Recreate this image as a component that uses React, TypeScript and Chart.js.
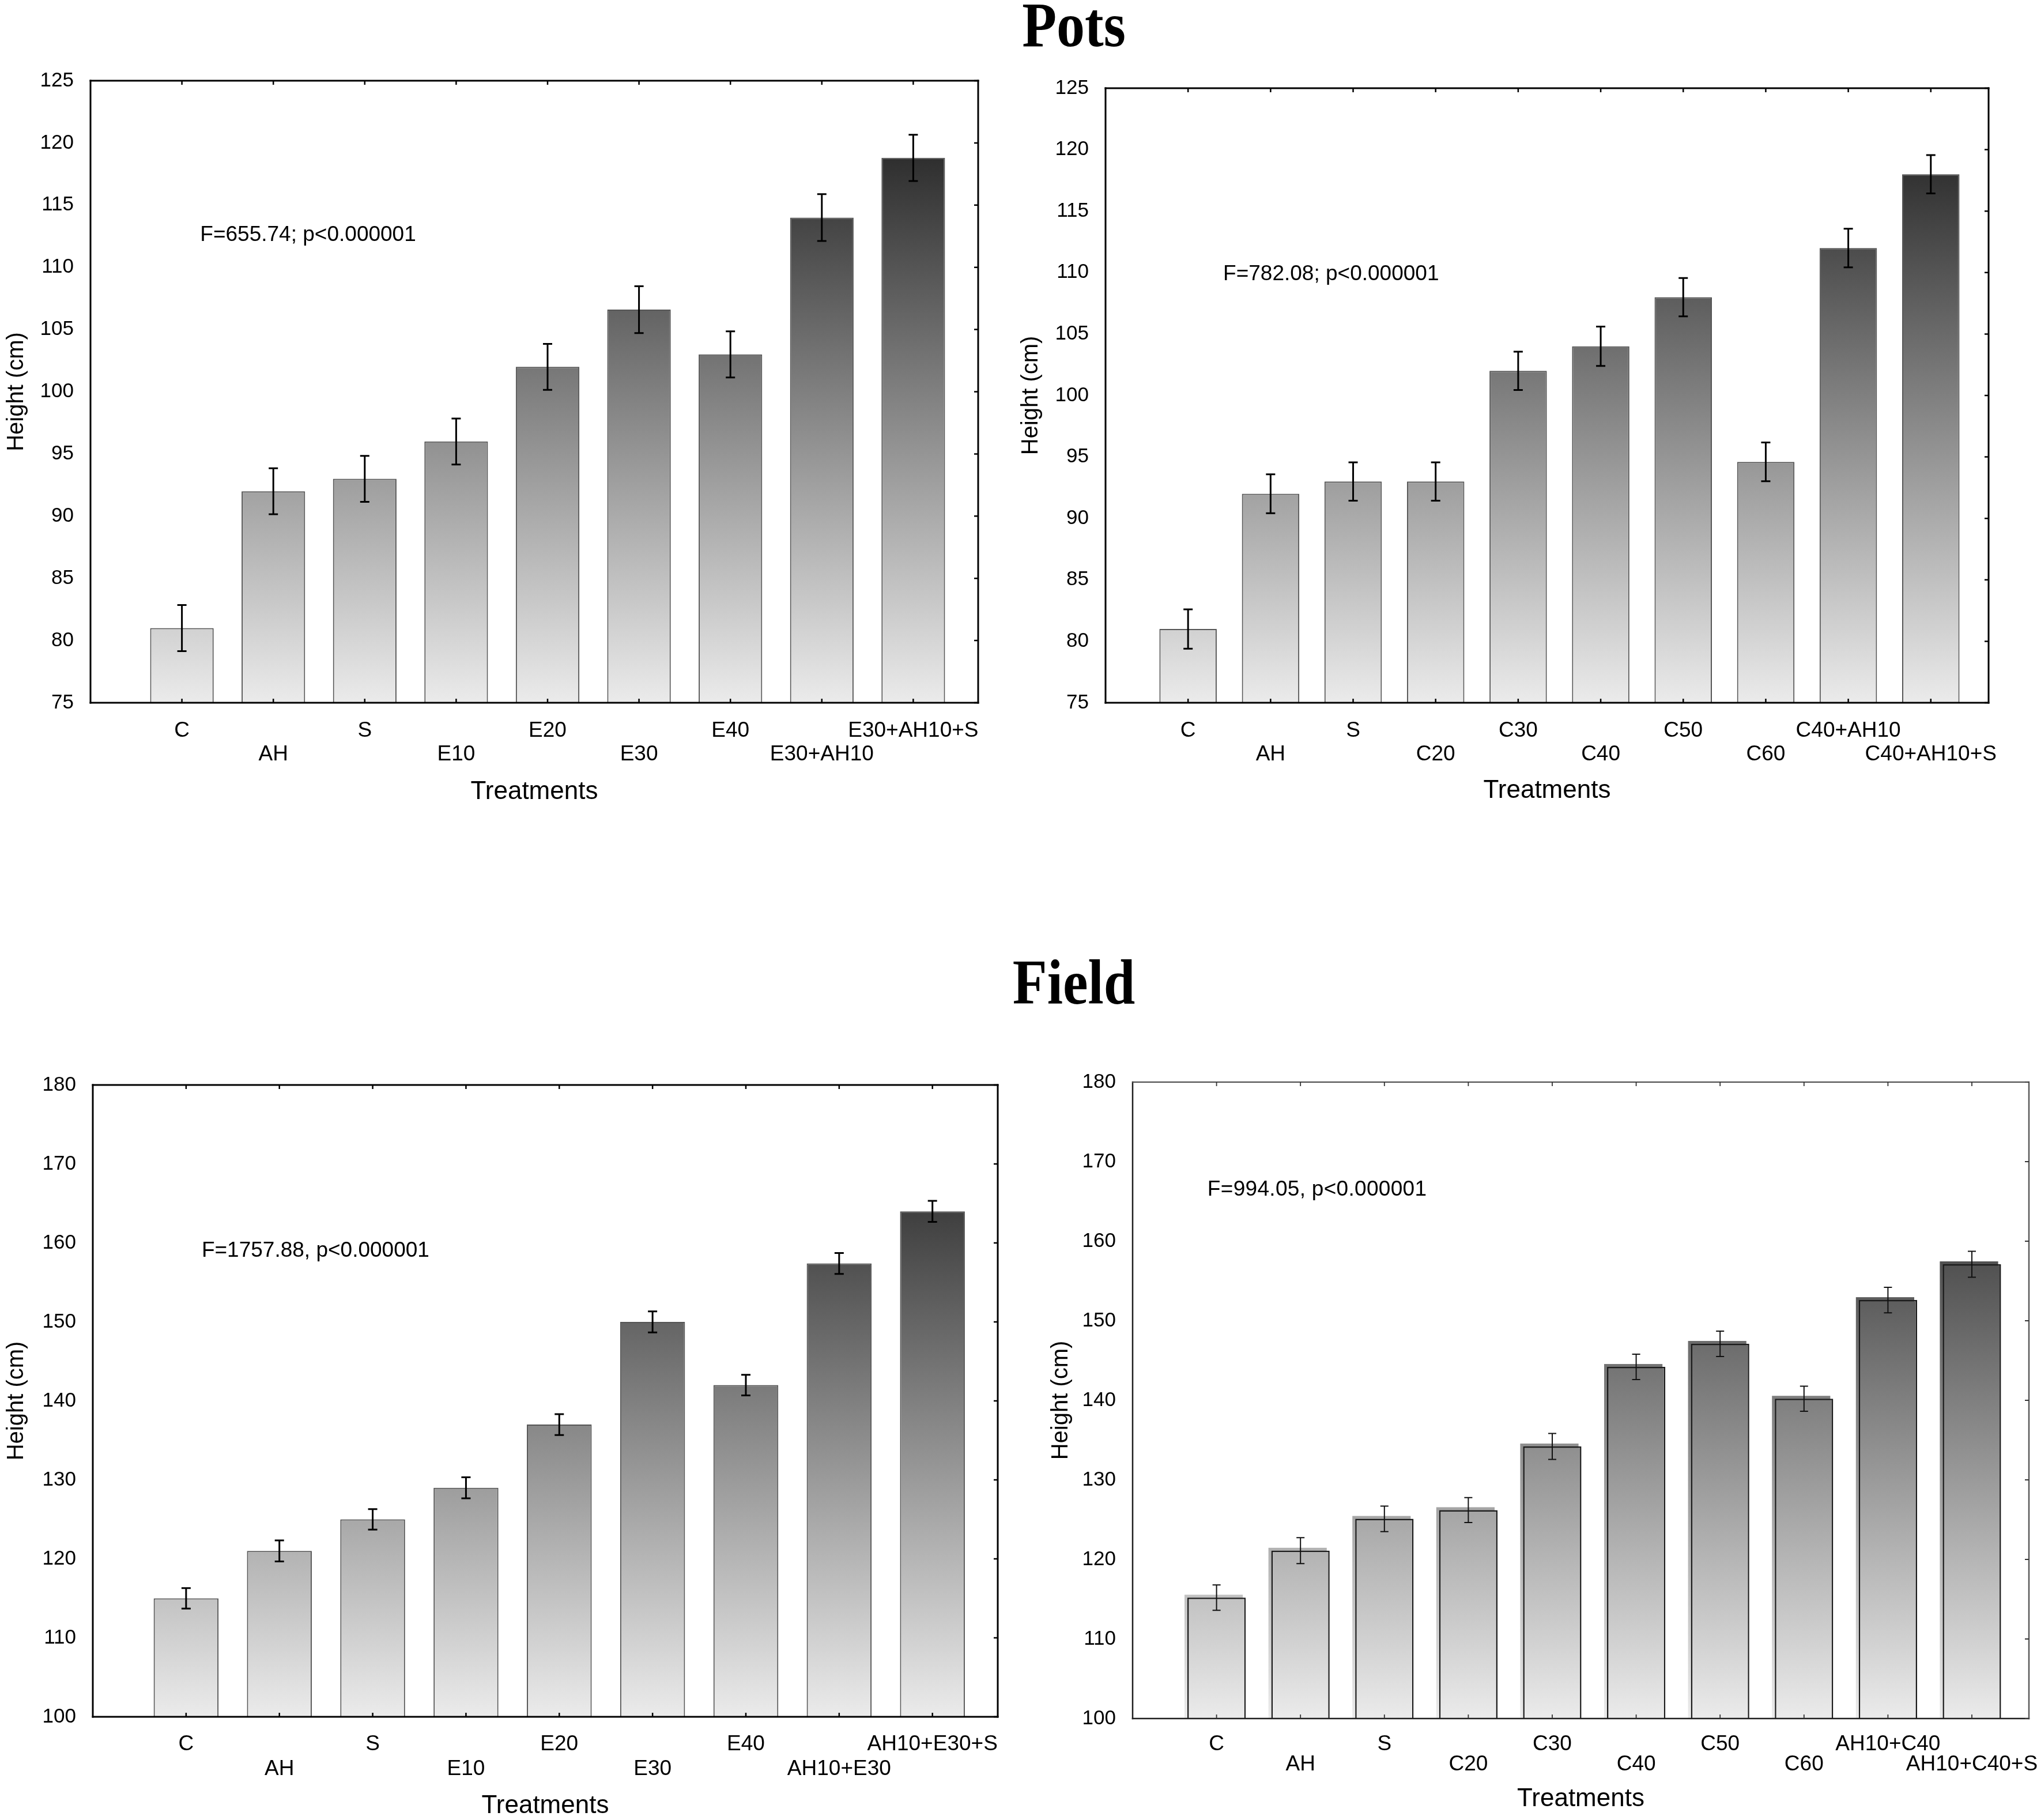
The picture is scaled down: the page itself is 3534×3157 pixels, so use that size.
import React, { useEffect, useRef } from 'react';
import { Chart, registerables } from 'chart.js';

Chart.register(...registerables);

// ---------- data ----------
const potsETreatments = ['C', 'AH', 'S', 'E10', 'E20', 'E30', 'E40', 'E30+AH10', 'E30+AH10+S'];
const potsEHeights = [81, 92, 93, 96, 102, 106.6, 103, 114, 118.8];
const potsEErrors = [1.85, 1.85, 1.85, 1.85, 1.85, 1.88, 1.85, 1.88, 1.86];

const potsCTreatments = ['C', 'AH', 'S', 'C20', 'C30', 'C40', 'C50', 'C60', 'C40+AH10', 'C40+AH10+S'];
const potsCHeights = [81, 92, 93, 93, 102, 104, 108, 94.6, 112, 118];
const potsCErrors = [1.6, 1.58, 1.56, 1.56, 1.56, 1.6, 1.56, 1.58, 1.57, 1.56];

const fieldETreatments = ['C', 'AH', 'S', 'E10', 'E20', 'E30', 'E40', 'AH10+E30', 'AH10+E30+S'];
const fieldEHeights = [115, 121, 125, 129, 137, 150, 142, 157.4, 164];
const fieldEErrors = [1.3, 1.33, 1.3, 1.33, 1.33, 1.33, 1.3, 1.33, 1.33];

const fieldCTreatments = ['C', 'AH', 'S', 'C20', 'C30', 'C40', 'C50', 'C60', 'AH10+C40', 'AH10+C40+S'];
const fieldCHeights = [115.2, 121.1, 125.1, 126.2, 134.2, 144.2, 147.1, 140.2, 152.6, 157.1];
const fieldCErrors = [1.6, 1.63, 1.6, 1.57, 1.63, 1.6, 1.6, 1.57, 1.6, 1.63];

const potsTicks = [75, 80, 85, 90, 95, 100, 105, 110, 115, 120, 125];
const fieldTicks = [100, 110, 120, 130, 140, 150, 160, 170, 180];

const potsENote = 'F=655.74; p<0.000001';
const potsCNote = 'F=782.08; p<0.000001';
const fieldENote = 'F=1757.88, p<0.000001';
const fieldCNote = 'F=994.05, p<0.000001';

const yTitle = 'Height (cm)';
const xTitle = 'Treatments';
const sectionTitles = ['Pots', 'Field'];

// ---------- styling ----------
const SANS = "'Liberation Sans', Arial, Helvetica, sans-serif";

type Spec = {
  canvas: { x: number; y: number; w: number; h: number };
  area: { L: number; T: number; R: number; B: number };
  cats: string[];
  values: number[];
  errors: number[];
  yMin: number;
  yMax: number;
  yTicks: number[];
  xMax: number;
  yTitleX: number;
  xRow1: number;
  xRowGap: number;
  xTitleY: number;
  note: string;
  noteAt: [number, number];
  noteSpacing: string;
  light: boolean;
};

const specs: Spec[] = [
  {
    canvas: { x: 0, y: 100, w: 1767, h: 1330 },
    area: { L: 157, T: 140, R: 1697, B: 1219 },
    cats: potsETreatments, values: potsEHeights, errors: potsEErrors,
    yMin: 75, yMax: 125, yTicks: potsTicks, xMax: 8.71,
    yTitleX: 29, xRow1: 1260, xRowGap: 41, xTitleY: 1374,
    note: potsENote, noteAt: [0.2, 112.6], noteSpacing: '0px', light: false,
  },
  {
    canvas: { x: 1760, y: 100, w: 1774, h: 1330 },
    area: { L: 1918, T: 153, R: 3450, B: 1219 },
    cats: potsCTreatments, values: potsCHeights, errors: potsCErrors,
    yMin: 75, yMax: 125, yTicks: potsTicks, xMax: 9.7,
    yTitleX: 1789, xRow1: 1260, xRowGap: 41, xTitleY: 1372,
    note: potsCNote, noteAt: [0.425, 109.85], noteSpacing: '0px', light: false,
  },
  {
    canvas: { x: 0, y: 1800, w: 1767, h: 1357 },
    area: { L: 161, T: 1882, R: 1731, B: 2978 },
    cats: fieldETreatments, values: fieldEHeights, errors: fieldEErrors,
    yMin: 100, yMax: 180, yTicks: fieldTicks, xMax: 8.7,
    yTitleX: 29, xRow1: 3018, xRowGap: 43, xTitleY: 3133,
    note: fieldENote, noteAt: [0.167, 158.96], noteSpacing: '0px', light: false,
  },
  {
    canvas: { x: 1760, y: 1800, w: 1774, h: 1357 },
    area: { L: 1965, T: 1877, R: 3520, B: 2981 },
    cats: fieldCTreatments, values: fieldCHeights, errors: fieldCErrors,
    yMin: 100, yMax: 180, yTicks: fieldTicks, xMax: 9.68,
    yTitleX: 1841, xRow1: 3018, xRowGap: 35, xTitleY: 3121,
    note: fieldCNote, noteAt: [-0.108, 166.46], noteSpacing: '0.3px', light: true,
  },
];

function barGradient(ctx: CanvasRenderingContext2D, area: any) {
  const g = ctx.createLinearGradient(0, area.bottom, 0, area.top);
  g.addColorStop(0, '#ebebeb');
  g.addColorStop(1, '#141414');
  return g;
}

function buildChart(canvas: HTMLCanvasElement, s: Spec) {
  const yTickSize = 35;
  const xTickSize = 37;
  const xTitleSize = 44;
  const xTitleLH = 1;
  const yTitleSize = 40;
  const yWidth = s.area.L - s.canvas.x;
  const boxBottom = Math.min(s.xTitleY + (xTitleSize * xTitleLH) / 2, s.canvas.y + s.canvas.h);
  const xHeight = boxBottom - s.area.B;
  const padTop = s.area.T - s.canvas.y;
  const padRight = s.canvas.x + s.canvas.w - s.area.R;
  const padBottom = s.canvas.y + s.canvas.h - boxBottom;
  const xTitlePadBottom = boxBottom - (xTitleSize * xTitleLH) / 2 - s.xTitleY;
  const xTickPad = s.xRow1 - s.area.B - s.xRowGap / 2;
  const yTitlePad = s.yTitleX - s.canvas.x - yTitleSize / 2;

  const shadowPlugin = {
    id: 'barShadow',
    beforeDatasetsDraw(chart: any) {
      if (!s.light) return;
      const ctx = chart.ctx as CanvasRenderingContext2D;
      const area = chart.chartArea;
      const meta = chart.getDatasetMeta(0);
      ctx.save();
      ctx.beginPath();
      ctx.rect(area.left, area.top, area.right - area.left, area.bottom - area.top);
      ctx.clip();
      ctx.fillStyle = barGradient(ctx, area);
      meta.data.forEach((el: any) => {
        const { x, y, width } = el.getProps(['x', 'y', 'width'], true);
        ctx.fillRect(x - width / 2 - 5, y - 5, width, area.bottom - y + 5);
      });
      ctx.restore();
    },
  };

  const framePlugin = {
    id: 'frame',
    afterDatasetsDraw(chart: any) {
      const ctx = chart.ctx as CanvasRenderingContext2D;
      const { left, right, top, bottom } = chart.chartArea;
      const xs = chart.scales.x;
      const ys = chart.scales.y;
      const tl = 7;
      ctx.save();
      ctx.lineCap = 'square';
      const side = (color: string, w: number, x1: number, y1: number, x2: number, y2: number) => {
        ctx.strokeStyle = color;
        ctx.lineWidth = w;
        ctx.beginPath();
        ctx.moveTo(x1, y1);
        ctx.lineTo(x2, y2);
        ctx.stroke();
      };
      const main = s.light ? '#1e1e1e' : '#000';
      const lw = s.light ? 2.5 : 3;
      side(main, lw, left, top, left, bottom);
      side(main, lw, left, bottom, right, bottom);
      side(s.light ? '#444' : '#000', s.light ? 2 : 3, left, top, right, top);
      side(s.light ? '#5a5a5a' : '#000', s.light ? 2.5 : 3, right, top, right, bottom);
      ctx.lineCap = 'butt';
      ctx.strokeStyle = s.light ? '#333' : '#000';
      ctx.lineWidth = s.light ? 1.8 : 2.5;
      ctx.beginPath();
      s.cats.forEach((_, i) => {
        const px = xs.getPixelForValue(i);
        ctx.moveTo(px, top);
        ctx.lineTo(px, top + tl);
        ctx.moveTo(px, bottom);
        ctx.lineTo(px, bottom - tl);
      });
      s.yTicks.forEach((v) => {
        const py = ys.getPixelForValue(v);
        ctx.moveTo(right, py);
        ctx.lineTo(right - tl, py);
      });
      ctx.stroke();
      ctx.restore();
    },
  };

  const errorPlugin = {
    id: 'errorBars',
    afterDatasetsDraw(chart: any) {
      const ctx = chart.ctx as CanvasRenderingContext2D;
      const meta = chart.getDatasetMeta(0);
      const ys = chart.scales.y;
      const cap = s.light ? 7 : 8;
      ctx.save();
      ctx.strokeStyle = s.light ? '#111' : '#000';
      ctx.lineWidth = s.light ? 2 : 3;
      ctx.beginPath();
      meta.data.forEach((el: any, i: number) => {
        const v = s.values[i];
        const e = s.errors[i];
        const yt = ys.getPixelForValue(v + e);
        const yb = ys.getPixelForValue(v - e);
        ctx.moveTo(el.x, yt);
        ctx.lineTo(el.x, yb);
        ctx.moveTo(el.x - cap, yt);
        ctx.lineTo(el.x + cap, yt);
        ctx.moveTo(el.x - cap, yb);
        ctx.lineTo(el.x + cap, yb);
      });
      ctx.stroke();
      ctx.restore();
    },
  };

  const notePlugin = {
    id: 'note',
    afterDraw(chart: any) {
      const ctx = chart.ctx as CanvasRenderingContext2D;
      const px = chart.scales.x.getPixelForValue(s.noteAt[0]);
      const py = chart.scales.y.getPixelForValue(s.noteAt[1]);
      ctx.save();
      ctx.font = `37px ${SANS}`;
      (ctx as any).letterSpacing = s.noteSpacing;
      ctx.fillStyle = '#000';
      ctx.textAlign = 'left';
      ctx.textBaseline = 'middle';
      ctx.fillText(s.note, px, py);
      (ctx as any).letterSpacing = '0px';
      ctx.restore();
    },
  };

  return new Chart(canvas, {
    type: 'bar',
    data: {
      datasets: [
        {
          data: s.values.map((v, i) => ({ x: i, y: v })),
          backgroundColor: (c: any) => {
            const area = c.chart.chartArea;
            if (!area) return '#999';
            return barGradient(c.chart.ctx, area);
          },
          borderColor: s.light ? '#1a1a1a' : '#555',
          borderWidth: s.light ? 2.5 : 2,
          borderSkipped: false,
          barPercentage: 0.695,
          categoryPercentage: 1,
        } as any,
      ],
    },
    options: {
      animation: false,
      responsive: false,
      devicePixelRatio: 1,
      layout: { padding: { left: 0, top: padTop, right: padRight, bottom: padBottom } },
      plugins: { legend: { display: false }, tooltip: { enabled: false }, title: { display: false } },
      scales: {
        x: {
          type: 'linear',
          min: -1,
          max: s.xMax,
          offset: false,
          grid: { display: false },
          border: { display: false },
          afterBuildTicks: (scale: any) => {
            scale.ticks = s.cats.map((_, i) => ({ value: i }));
          },
          afterFit: (scale: any) => {
            scale.height = xHeight;
            scale.paddingLeft = 0;
            scale.paddingRight = 0;
          },
          ticks: {
            autoSkip: false,
            maxRotation: 0,
            minRotation: 0,
            padding: xTickPad,
            color: '#000',
            font: { family: SANS, size: xTickSize, lineHeight: s.xRowGap / xTickSize },
            callback: (value: any) => {
              const i = Math.round(Number(value));
              const lab = s.cats[i] ?? '';
              return i % 2 === 0 ? [lab, ''] : ['', lab];
            },
          },
          title: {
            display: true,
            text: xTitle,
            color: '#000',
            font: { family: SANS, size: xTitleSize, lineHeight: xTitleLH },
            padding: { top: 0, bottom: Math.max(0, xTitlePadBottom) },
          },
        } as any,
        y: {
          type: 'linear',
          min: s.yMin,
          max: s.yMax,
          grid: { display: false },
          border: { display: false },
          afterBuildTicks: (scale: any) => {
            scale.ticks = s.yTicks.map((v) => ({ value: v }));
          },
          afterFit: (scale: any) => {
            scale.width = yWidth;
            scale.paddingTop = 0;
            scale.paddingBottom = 0;
          },
          ticks: {
            padding: 21,
            color: '#000',
            font: { family: SANS, size: yTickSize, lineHeight: 1 },
          },
          title: {
            display: true,
            text: yTitle,
            color: '#000',
            font: { family: SANS, size: yTitleSize, lineHeight: 1 },
            padding: { top: yTitlePad, bottom: 0 },
          },
        } as any,
      },
    },
    plugins: [shadowPlugin, framePlugin, errorPlugin, notePlugin],
  } as any);
}

function BarPanel({ spec }: { spec: Spec }) {
  const ref = useRef<HTMLCanvasElement | null>(null);
  useEffect(() => {
    if (!ref.current) return;
    const chart = buildChart(ref.current, spec);
    return () => chart.destroy();
  }, [spec]);
  return (
    <canvas
      ref={ref}
      width={spec.canvas.w}
      height={spec.canvas.h}
      style={{
        position: 'absolute',
        left: spec.canvas.x,
        top: spec.canvas.y,
        width: spec.canvas.w,
        height: spec.canvas.h,
      }}
    />
  );
}

const titleStyle = (top: number): React.CSSProperties => ({
  position: 'absolute',
  left: 1863 - 400,
  width: 800,
  top,
  textAlign: 'center',
  fontFamily: "'Liberation Serif', 'Times New Roman', serif",
  fontWeight: 'bold',
  fontSize: 98,
  lineHeight: '100px',
  color: '#000',
  transform: 'scaleY(1.12)',
  transformOrigin: 'center center',
});

export default function App() {
  useEffect(() => {
    document.body.style.margin = '0';
    document.body.style.background = '#fff';
  }, []);
  return (
    <div
      style={{
        position: 'absolute',
        left: 0,
        top: 0,
        width: 3534,
        height: 3157,
        background: '#fff',
        overflow: 'hidden',
      }}
    >
      <div style={titleStyle(-7)}>{sectionTitles[0]}</div>
      <div style={titleStyle(1654)}>{sectionTitles[1]}</div>
      {specs.map((s, i) => (
        <BarPanel key={i} spec={s} />
      ))}
    </div>
  );
}
